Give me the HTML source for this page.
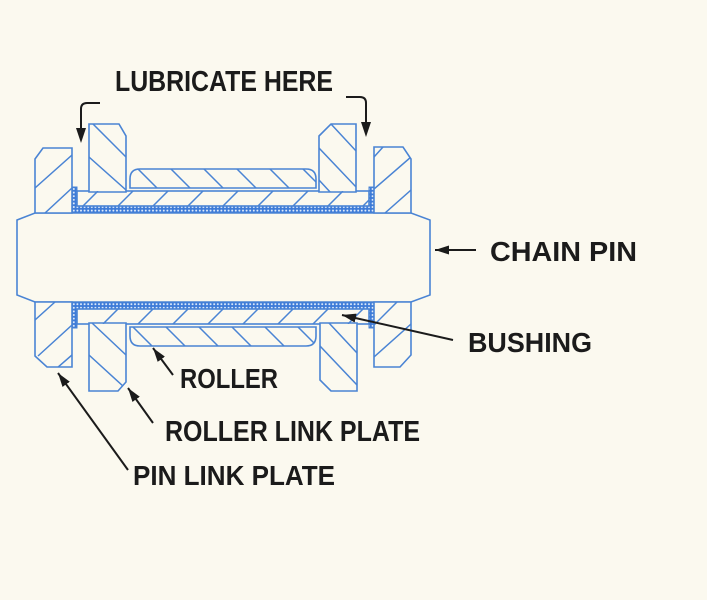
<!DOCTYPE html>
<html><head><meta charset="utf-8"><style>
html,body{margin:0;padding:0;background:#fbf9ef;}
svg{display:block;}
text{font-family:"Liberation Sans",Arial,sans-serif;font-weight:bold;fill:#1b1b1b;}
</style></head><body>
<svg width="707" height="600" viewBox="0 0 707 600" xmlns="http://www.w3.org/2000/svg">
<defs>
<pattern id="dots" width="3.6" height="3.6" patternUnits="userSpaceOnUse">
<rect width="3.6" height="3.6" fill="#3d7bd8"/>
<circle cx="1.8" cy="1.8" r="1.0" fill="#e0ecfa"/>
</pattern>
<marker id="ah" markerUnits="userSpaceOnUse" markerWidth="16" markerHeight="10" refX="14" refY="4.5" orient="auto">
<path d="M0,0 L14,4.5 L0,9 z" fill="#1b1b1b"/>
</marker>
<clipPath id="cRollU"><path d="M130,188 L130,179 Q130,169 140,169 L306,169 Q316,169 316,179 L316,188 Z"/></clipPath>
<clipPath id="cRollL"><path d="M130,327 L130,336 Q130,346 140,346 L306,346 Q316,346 316,336 L316,327 Z"/></clipPath>
<clipPath id="cBushU"><rect x="77" y="191" width="292" height="15"/></clipPath>
<clipPath id="cBushL"><rect x="77" y="309" width="292" height="15"/></clipPath>
<clipPath id="p1"><polygon points="35,159 43,148 72,148 72,213 35,213"/></clipPath>
<clipPath id="p2"><polygon points="89,124 119,124 126,136 126,192 89,192"/></clipPath>
<clipPath id="p3"><polygon points="35,302 72,302 72,367 47,367 35,356"/></clipPath>
<clipPath id="p4"><polygon points="89,323 126,323 126,382 118,391 89,391"/></clipPath>
<clipPath id="p5"><polygon points="319,136 331,124 356,124 356,192 319,192"/></clipPath>
<clipPath id="p6"><polygon points="374,147 403,147 411,159 411,213 374,213"/></clipPath>
<clipPath id="p7"><polygon points="320,323 357,323 357,391 331,391 320,380"/></clipPath>
<clipPath id="p8"><polygon points="374,302 411,302 411,355 400,367 374,367"/></clipPath>
</defs>

<rect width="707" height="600" fill="#fbf9ef"/>

<g stroke="#4a84d4" stroke-width="1.6" fill="#fbf9ef" stroke-linejoin="miter">
<polygon points="17,220 35,213 411,213 430,220 430,295 411,302 35,302 17,295"/>
<path d="M72,187 L77,187 L77,206 L369,206 L369,187 L374,187 L374,213 L72,213 Z" fill="url(#dots)" stroke-width="1"/>
<path d="M72,328 L77,328 L77,309 L369,309 L369,328 L374,328 L374,302 L72,302 Z" fill="url(#dots)" stroke-width="1"/>
<rect x="77" y="191" width="292" height="15"/>
<rect x="77" y="309" width="292" height="15"/>
<path d="M130,188 L130,179 Q130,169 140,169 L306,169 Q316,169 316,179 L316,188 Z"/>
<path d="M130,327 L130,336 Q130,346 140,346 L306,346 Q316,346 316,336 L316,327 Z"/>
<polygon points="35,159 43,148 72,148 72,213 35,213"/>
<polygon points="89,124 119,124 126,136 126,192 89,192"/>
<polygon points="35,302 72,302 72,367 47,367 35,356"/>
<polygon points="89,323 126,323 126,382 118,391 89,391"/>
<polygon points="319,136 331,124 356,124 356,192 319,192"/>
<polygon points="374,147 403,147 411,159 411,213 374,213"/>
<polygon points="320,323 357,323 357,391 331,391 320,380"/>
<polygon points="374,302 411,302 411,355 400,367 374,367"/>
</g>

<g stroke="#4a84d4" stroke-width="1.5" fill="none">
<g clip-path="url(#cRollU)">
<path d="M138,169 l19,19 M171,169 l19,19 M204,169 l19,19 M237,169 l19,19 M270,169 l19,19 M303,169 l19,19"/>
</g>
<g clip-path="url(#cRollL)">
<path d="M133,327 l19,19 M166,327 l19,19 M199,327 l19,19 M232,327 l19,19 M265,327 l19,19 M298,327 l19,19"/>
</g>
<g clip-path="url(#cBushU)">
<path d="M83,206 l15,-15 M118,206 l15,-15 M153,206 l15,-15 M188,206 l15,-15 M223,206 l15,-15 M258,206 l15,-15 M293,206 l15,-15 M328,206 l15,-15 M363,206 l15,-15"/>
</g>
<g clip-path="url(#cBushL)">
<path d="M103,324 l15,-15 M138,324 l15,-15 M173,324 l15,-15 M208,324 l15,-15 M243,324 l15,-15 M278,324 l15,-15 M313,324 l15,-15 M348,324 l15,-15"/>
</g>
<g clip-path="url(#p1)"><path d="M35,188 L72,155 M45,213 L72,188"/></g>
<g clip-path="url(#p2)"><path d="M93,124 L126,157 M89,157 L126,190"/></g>
<g clip-path="url(#p3)"><path d="M35,320 L55,302 M38,356 L72,325 M57,368 L72,355"/></g>
<g clip-path="url(#p4)"><path d="M92,323 L126,355 M89,355 L124,387"/></g>
<g clip-path="url(#p5)"><path d="M331,124 L357,152 M319,148 L357,188 M319,180 L331,193"/></g>
<g clip-path="url(#p6)"><path d="M374,157 L383,147 M374,189 L411,157 M385,213 L411,190"/></g>
<g clip-path="url(#p7)"><path d="M329,323 L357,353 M320,346 L357,385"/></g>
<g clip-path="url(#p8)"><path d="M374,325 L397,302 M374,357 L411,324"/></g>
</g>

<g stroke="#1b1b1b" stroke-width="2" fill="none">
<path d="M100,103 L87,103 Q81,103 81,109 L81,130" />
<path d="M346,97 L360,97 Q366,97 366,103 L366,124" />
<line x1="476" y1="250" x2="435" y2="250" marker-end="url(#ah)"/>
<line x1="453" y1="340" x2="342" y2="315" marker-end="url(#ah)"/>
<line x1="173" y1="375" x2="153" y2="348" marker-end="url(#ah)"/>
<line x1="153" y1="423" x2="128" y2="388" marker-end="url(#ah)"/>
<line x1="128" y1="470" x2="58" y2="373" marker-end="url(#ah)"/>
</g>
<g fill="#1b1b1b">
<polygon points="76,128 86,128 81,143"/>
<polygon points="361,122 371,122 366,137"/>
</g>

<text x="115" y="91" font-size="29" textLength="218" lengthAdjust="spacingAndGlyphs">LUBRICATE HERE</text>
<text x="490" y="261" font-size="28" textLength="147" lengthAdjust="spacingAndGlyphs">CHAIN PIN</text>
<text x="468" y="352" font-size="28" textLength="124" lengthAdjust="spacingAndGlyphs">BUSHING</text>
<text x="180" y="388" font-size="28" textLength="98" lengthAdjust="spacingAndGlyphs">ROLLER</text>
<text x="165" y="441" font-size="29" textLength="255" lengthAdjust="spacingAndGlyphs">ROLLER LINK PLATE</text>
<text x="133" y="485" font-size="28" textLength="202" lengthAdjust="spacingAndGlyphs">PIN LINK PLATE</text>
</svg>
</body></html>
